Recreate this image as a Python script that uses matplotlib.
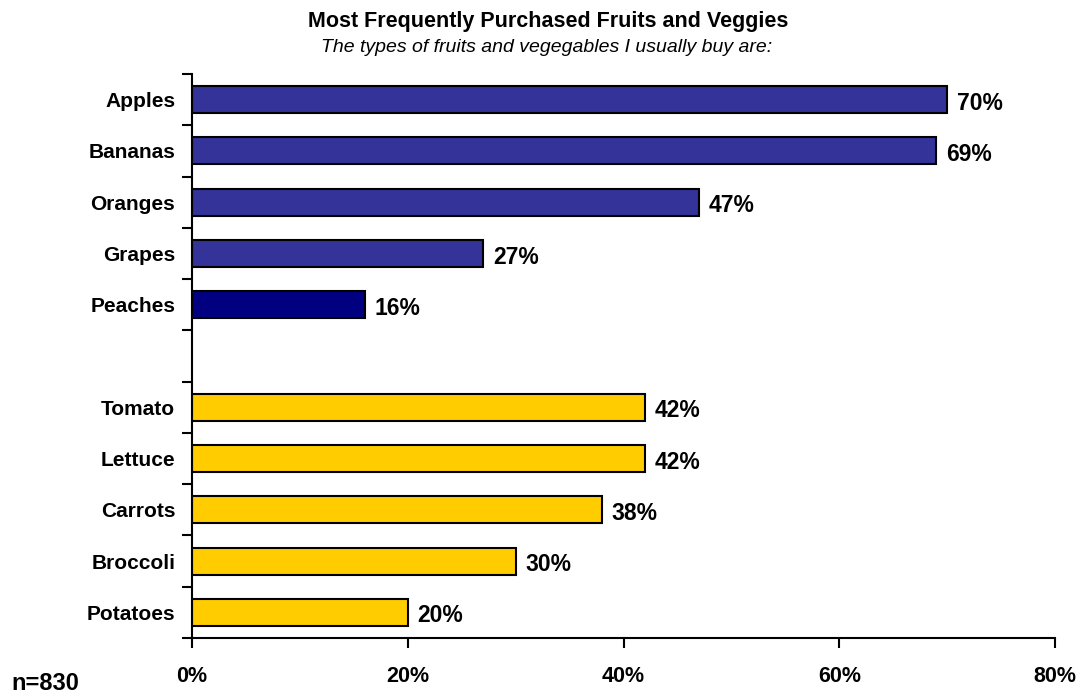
import matplotlib
matplotlib.use("Agg")
import matplotlib.pyplot as plt
import numpy as np

plt.rcParams['font.family'] = ['Liberation Sans', 'DejaVu Sans']

# Survey results (percent of respondents)
categories = ["Apples", "Bananas", "Oranges", "Grapes", "Peaches", "",
              "Tomato", "Lettuce", "Carrots", "Broccoli", "Potatoes"]
values = [70, 69, 47, 27, 16, None, 42, 42, 38, 30, 20]
colors = ["#333399", "#333399", "#333399", "#333399", "#000080", None,
          "#FFCC00", "#FFCC00", "#FFCC00", "#FFCC00", "#FFCC00"]
xticks = [0, 20, 40, 60, 80]
xtick_labels = ["0%", "20%", "40%", "60%", "80%"]

fig = plt.figure(figsize=(10.81, 6.94), dpi=100)
ax = fig.add_axes([192 / 1081, 1 - 638 / 694, (1055 - 192) / 1081, (638 - 74) / 694])

pos = np.arange(len(categories))
for p, v, c in zip(pos, values, colors):
    if v is None:
        continue
    ax.barh(p, v, height=0.53, color=c, edgecolor="black", linewidth=1.5)
    ax.text(v + 0.9, p + 0.07, f"{v}%", va="center", ha="left",
            fontsize=16.5, fontweight="bold")

ax.set_xlim(0, 80)
ax.set_ylim(len(categories) - 0.5, -0.5)

ax.set_xticks(xticks)
ax.set_xticklabels(xtick_labels, fontsize=15.5, fontweight="bold")
ax.tick_params(axis="x", direction="out", length=7, width=1.5, pad=13)

ax.set_yticks(pos)
ax.set_yticklabels(categories, fontsize=15, fontweight="bold")
ax.set_yticks(np.arange(-0.5, len(categories)), minor=True)
ax.tick_params(axis="y", which="major", length=0, pad=12)
ax.tick_params(axis="y", which="minor", direction="out", length=7, width=1.5)

for side in ("top", "right"):
    ax.spines[side].set_visible(False)
for side in ("left", "bottom"):
    ax.spines[side].set_linewidth(1.5)

fig.text(548 / 1081, 1 - 22 / 694, "Most Frequently Purchased Fruits and Veggies",
         ha="center", va="center", fontsize=15.5, fontweight="bold")
fig.text(547 / 1081, 1 - 47 / 694, "The types of fruits and vegegables I usually buy are:",
         ha="center", va="center", fontsize=14, style="italic")
fig.text(11 / 1081, 1 - 684 / 694, "n=830", ha="left", va="center",
         fontsize=17, fontweight="bold")

fig.savefig("out.png", dpi=100)
